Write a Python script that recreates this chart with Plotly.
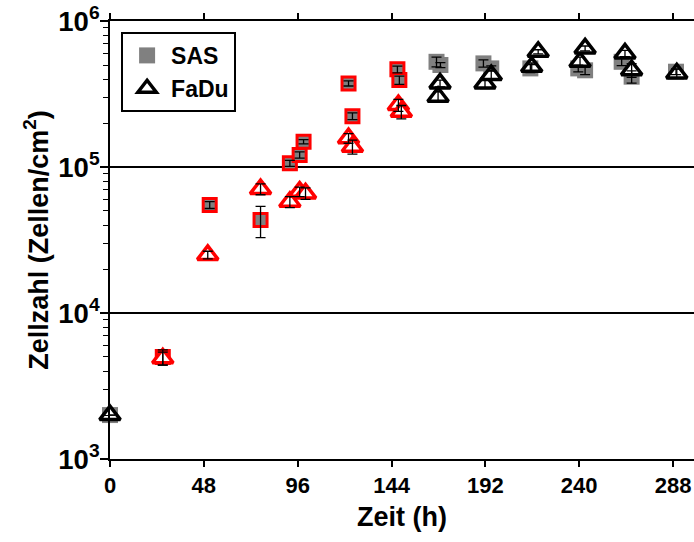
import plotly.graph_objects as go

# ---- data ----
# early measurements (red outlined markers)
sas_early_t = [27, 51, 77, 92, 97, 99, 122, 124, 147, 148]
sas_early_y = [5000, 55000, 43300, 106000, 121000, 149000, 374000, 223000, 467000, 394000]
sas_early_err = [600, 3000, 10500, 5000, 6000, 5000, 15000, 12000, 25000, 25000]

fadu_early_t = [27, 50, 77, 92, 97, 100, 122, 124, 147.5, 149]
fadu_early_y = [4900, 25000, 70600, 57800, 67800, 66000, 157600, 137800, 266000, 239000]
fadu_early_err = [500, 1500, 6000, 5000, 5000, 6000, 12000, 15000, 25000, 25000]

# later measurements
sas_late_t = [0, 167, 169, 191, 195, 215, 239.5, 243, 261.7, 266.8, 289.5]
sas_late_y = [2000, 526000, 500000, 513000, 474000, 474000, 474000, 460000, 526000, 416000, 450000]
sas_late_err = [0, 40000, 20000, 30000, 20000, 30000, 25000, 30000, 30000, 40000, 20000]

fadu_late_t = [0, 168.8, 167.8, 191.8, 195, 215.7, 219, 240.4, 243, 263.4, 266.8, 289.9]
fadu_late_y = [2000, 374000, 303000, 374000, 427000, 486000, 616000, 526000, 650000, 600000, 461000, 438000]
fadu_late_err = [0, 20000, 25000, 30000, 30000, 30000, 20000, 40000, 25000, 30000, 50000, 30000]

x_ticks = [0, 48, 96, 144, 192, 240, 288]

FONT = "Liberation Sans, Arial, sans-serif"
GREY = "#808080"
RED = "#ff0000"

fig = go.Figure()

sq_size = 13
tri_size = 18

# SAS squares
fig.add_trace(go.Scatter(x=sas_late_t, y=sas_late_y, mode="markers", name="SAS",
                         marker=dict(symbol="square", size=sq_size + 3, color=GREY,
                                     line=dict(width=0)),
                         cliponaxis=False, legendrank=1, showlegend=True))
fig.add_trace(go.Scatter(x=sas_early_t, y=sas_early_y, mode="markers", name="SAS early",
                         marker=dict(symbol="square", size=sq_size, color=GREY,
                                     line=dict(width=3, color=RED)),
                         cliponaxis=False, showlegend=False))
# FaDu triangles
fig.add_trace(go.Scatter(x=fadu_early_t, y=fadu_early_y, mode="markers", name="FaDu early",
                         marker=dict(symbol="triangle-up", size=tri_size, color="white",
                                     line=dict(width=3.5, color=RED)),
                         cliponaxis=False, showlegend=False))
fig.add_trace(go.Scatter(x=fadu_late_t, y=fadu_late_y, mode="markers", name="FaDu",
                         marker=dict(symbol="triangle-up", size=tri_size, color="white",
                                     line=dict(width=3.5, color="black")),
                         cliponaxis=False, legendrank=2, showlegend=True))

# error bars drawn on top
for t, y, e in [(sas_early_t, sas_early_y, sas_early_err),
                (fadu_early_t, fadu_early_y, fadu_early_err),
                (sas_late_t, sas_late_y, sas_late_err),
                (fadu_late_t, fadu_late_y, fadu_late_err)]:
    fig.add_trace(go.Scatter(x=t, y=y, mode="markers", showlegend=False, hoverinfo="skip",
                             marker=dict(size=1, opacity=0), cliponaxis=False,
                             error_y=dict(type="data", array=e, visible=True,
                                          color="black", thickness=1.3, width=5)))

fig.update_layout(
    width=694, height=542,
    margin=dict(l=110, r=0, t=21, b=83),
    paper_bgcolor="white", plot_bgcolor="white",
    font=dict(family=FONT, color="black"),
    showlegend=True,
    legend=dict(x=0.019, y=0.975, xanchor="left", yanchor="top",
                bgcolor="white", bordercolor="black", borderwidth=2,
                font=dict(size=23, family=FONT, color="black", weight="bold"),
                itemsizing="trace", itemwidth=38,
                traceorder="normal"),
)

fig.update_xaxes(
    range=[0, 298.7], tickvals=x_ticks, ticktext=[str(v) for v in x_ticks],
    showline=True, linecolor="black", linewidth=2, mirror="ticks",
    ticks="outside", ticklen=6, tickwidth=1.5, tickcolor="black",
    showgrid=False, zeroline=False,
    tickfont=dict(size=22, family=FONT, weight="bold"),
    title=dict(text="Zeit (h)", font=dict(size=27, family=FONT, weight="bold"), standoff=10),
)

fig.update_yaxes(
    type="log", range=[3, 6.0005], dtick=1, exponentformat="power",
    showline=True, linecolor="black", linewidth=2,
    ticks="outside", ticklen=8, tickwidth=1.5, tickcolor="black",
    ticklabelstandoff=-4,
    minor=dict(dtick="D1", ticks="outside", ticklen=5, tickwidth=1.3,
               tickcolor="black", showgrid=False),
    showgrid=True, gridcolor="black", gridwidth=1.5, zeroline=False,
    tickfont=dict(size=22, family=FONT, weight="bold"),
    title=dict(text="Zellzahl (Zellen/cm<sup>2</sup>)",
               font=dict(size=27, family=FONT, weight="bold"), standoff=2),
)

fig.write_html("out.html")
